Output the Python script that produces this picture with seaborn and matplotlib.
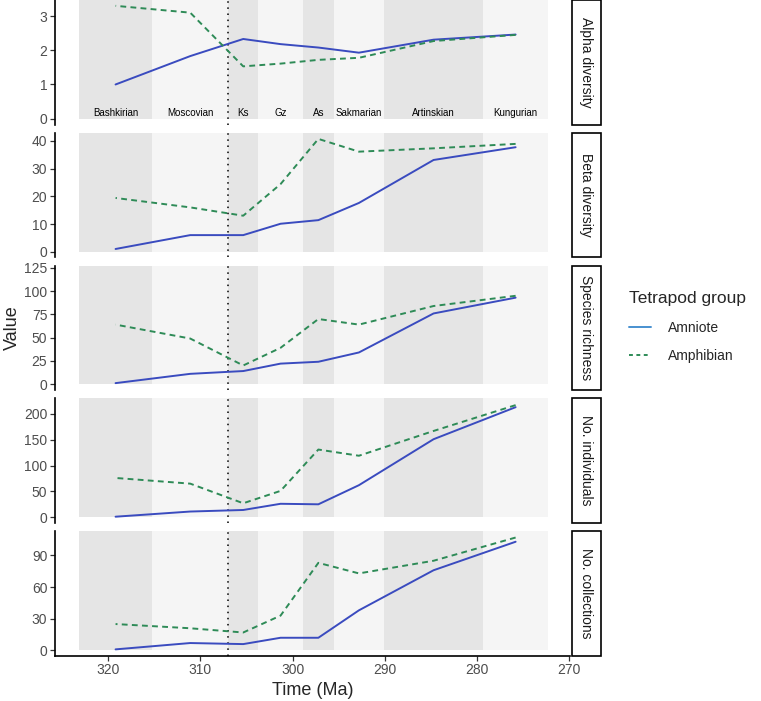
import pandas as pd
import matplotlib
matplotlib.use('Agg')
import matplotlib.pyplot as plt
from matplotlib.lines import Line2D
from matplotlib.patches import Rectangle
import seaborn as sns

# Stages (Ma)
stages = ['Bashkirian', 'Moscovian', 'Ks', 'Gz', 'As', 'Sakmarian', 'Artinskian', 'Kungurian']
stage_start = [323.2, 315.2, 307.0, 303.7, 298.9, 295.5, 290.1, 279.3]
stage_end = [315.2, 307.0, 303.7, 298.9, 295.5, 290.1, 279.3, 272.3]
bin_mid = [319.2, 311.1, 305.35, 301.3, 297.2, 292.8, 284.7, 275.8]

metrics = ['Alpha diversity', 'Beta diversity', 'Species richness',
           'No. individuals', 'No. collections']

alpha_amniote = [1.0, 1.83, 2.33, 2.18, 2.08, 1.93, 2.31, 2.46]
alpha_amphibian = [3.3, 3.1, 1.53, 1.61, 1.72, 1.78, 2.27, 2.45]
beta_amniote = [1.0, 6.0, 6.0, 10.1, 11.4, 17.6, 33.1, 37.7]
beta_amphibian = [19.4, 16.0, 13.0, 24.4, 40.7, 36.1, 37.3, 38.9]
rich_amniote = [1, 11, 14, 22, 24, 34, 76, 93]
rich_amphibian = [64, 49, 20, 39, 70, 64, 84, 95]
indiv_amniote = [1, 11, 14, 26, 25, 62, 151, 213]
indiv_amphibian = [76, 65, 27, 51, 131, 119, 167, 217]
coll_amniote = [1, 7, 6, 12, 12, 38, 76, 103]
coll_amphibian = [25, 21, 17, 33, 83, 73, 85, 107]

amniote_vals = [alpha_amniote, beta_amniote, rich_amniote, indiv_amniote, coll_amniote]
amphibian_vals = [alpha_amphibian, beta_amphibian, rich_amphibian, indiv_amphibian, coll_amphibian]

y_ticks = [[0, 1, 2, 3], [0, 10, 20, 30, 40], [0, 25, 50, 75, 100, 125],
           [0, 50, 100, 150, 200], [0, 30, 60, 90]]
y_lims = [(-0.17, 3.47), (-2.0, 42.9), (-6.5, 127.5), (-11, 230), (-5, 113)]

# long format table
rows = []
for m, am, ph in zip(metrics, amniote_vals, amphibian_vals):
    for t, a, p in zip(bin_mid, am, ph):
        rows.append({'metric': m, 'time': t, 'group': 'Amniote', 'value': a})
        rows.append({'metric': m, 'time': t, 'group': 'Amphibian', 'value': p})
df = pd.DataFrame(rows)

sns.set_theme(style='white')
plt.rcParams['font.family'] = ['Liberation Sans', 'DejaVu Sans']

pal = {'Amniote': '#3a4bbf', 'Amphibian': '#2e8b57'}
dash = {'Amniote': '', 'Amphibian': (3, 2.2)}
band_cols = ['#e5e5e5', '#f5f5f5']

W, H = 761, 701
fig = plt.figure(figsize=(W / 100, H / 100), dpi=100)

left_px, right_px = 55, 570
tops = [0, 132.8, 265.6, 398.4, 531.2]
ph_px = 124.5

for i, m in enumerate(metrics):
    ax = fig.add_axes([left_px / W, 1 - (tops[i] + ph_px) / H,
                       (right_px - left_px) / W, ph_px / H])
    lo, hi = y_lims[i]
    ax.set_xlim(325.77, 269.9)
    ax.set_ylim(lo, hi)
    frac = (0 - lo) / (hi - lo)
    for j, (s, e) in enumerate(zip(stage_start, stage_end)):
        ax.axvspan(s, e, ymin=frac, ymax=1, color=band_cols[j % 2], lw=0, zorder=0)
    ax.axvline(307.0, color='black', ls=(0, (1, 3)), lw=1.1, zorder=1)
    sns.lineplot(data=df[df.metric == m], x='time', y='value', hue='group',
                 style='group', palette=pal, dashes=dash, lw=1.4,
                 legend=False, ax=ax, zorder=2)
    ax.set_xlabel('')
    ax.set_ylabel('')
    ax.set_yticks(y_ticks[i])
    ax.tick_params(axis='y', length=3.5, width=0.9, color='#333333',
                   labelsize=10, labelcolor='#4d4d4d', pad=2, left=True)
    for sp in ['top', 'right']:
        ax.spines[sp].set_visible(False)
    ax.spines['left'].set_color('black')
    ax.spines['left'].set_linewidth(1.2)
    if i < len(metrics) - 1:
        ax.spines['bottom'].set_visible(False)
        ax.tick_params(axis='x', bottom=False, labelbottom=False)
    else:
        ax.spines['bottom'].set_color('black')
        ax.spines['bottom'].set_linewidth(1.2)
        ax.set_xticks([320, 310, 300, 290, 280, 270])
        ax.tick_params(axis='x', length=3.5, width=0.9, color='#333333',
                       labelsize=10, labelcolor='#4d4d4d', pad=2, bottom=True)
        ax.set_xlabel('Time (Ma)', fontsize=13, labelpad=3)

    # facet strip on the right
    ax.add_patch(Rectangle((1.0045, 0), 0.0551, 1, transform=ax.transAxes,
                           facecolor='white', edgecolor='black', lw=1.2,
                           clip_on=False))
    ax.text(1.032, 0.5, m, transform=ax.transAxes, rotation=-90,
            ha='center', va='center', fontsize=10, color='#1a1a1a')

    if i == 0:
        for s, e, name in zip(stage_start, stage_end, stages):
            ax.text((s + e) / 2, 0.18, name, ha='center', va='center',
                    fontsize=7, color='black')

fig.text(12 / W, 1 - 328 / H, 'Value', rotation=90, ha='center', va='center',
         fontsize=13)

handles = [Line2D([], [], color='#4891d0', lw=1.4),
           Line2D([], [], color='#2e8b57', lw=1.4, dashes=(2, 1.8))]
fig.legend(handles, ['Amniote', 'Amphibian'], title='Tetrapod group',
           loc='upper left', bbox_to_anchor=(629 / W, 1 - 291 / H),
           frameon=False, fontsize=10, title_fontsize=12.5, alignment='left',
           handlelength=1.6, handletextpad=1.2, labelspacing=1.05,
           borderpad=0, borderaxespad=0)

fig.savefig('out.png', dpi=100)
